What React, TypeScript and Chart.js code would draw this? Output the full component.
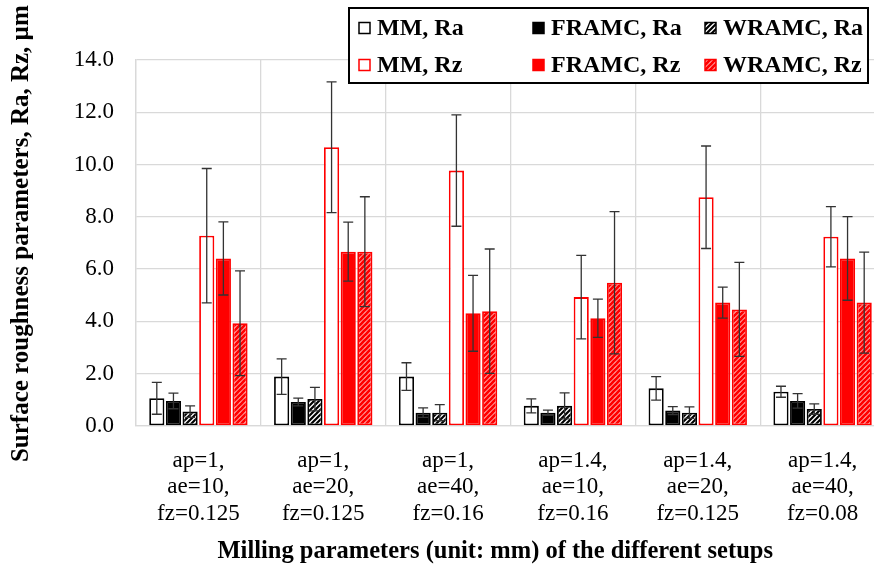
import React, { useEffect, useRef } from 'react';
import { Chart, registerables } from 'chart.js';

Chart.register(...registerables);

const FONT = "'Times New Roman', 'Liberation Serif', serif";

// Categories (milling setups), one array of lines per tick label
const categories: string[][] = [
  ['ap=1,', 'ae=10,', 'fz=0.125'],
  ['ap=1,', 'ae=20,', 'fz=0.125'],
  ['ap=1,', 'ae=40,', 'fz=0.16'],
  ['ap=1.4,', 'ae=10,', 'fz=0.16'],
  ['ap=1.4,', 'ae=20,', 'fz=0.125'],
  ['ap=1.4,', 'ae=40,', 'fz=0.08'],
];

const seriesLabels = ['MM, Ra', 'FRAMC, Ra', 'WRAMC, Ra', 'MM, Rz', 'FRAMC, Rz', 'WRAMC, Rz'];

// Mean values (µm)
const mmRa = [1.06, 1.89, 1.89, 0.77, 1.44, 1.31];
const framcRa = [0.96, 0.92, 0.51, 0.51, 0.59, 0.96];
const wramcRa = [0.55, 1.03, 0.51, 0.77, 0.51, 0.65];
const mmRz = [7.28, 10.66, 9.77, 4.93, 8.75, 7.24];
const framcRz = [6.41, 6.67, 4.31, 4.12, 4.72, 6.41];
const wramcRz = [3.93, 6.67, 4.39, 5.48, 4.46, 4.72];

// Standard deviations (error bars)
const mmRaErr = [0.61, 0.68, 0.53, 0.27, 0.45, 0.21];
const framcRaErr = [0.3, 0.15, 0.18, 0.1, 0.15, 0.28];
const wramcRaErr = [0.22, 0.45, 0.31, 0.5, 0.22, 0.2];
const mmRzErr = [2.57, 2.5, 2.13, 1.6, 1.96, 1.15];
const framcRzErr = [1.4, 1.13, 1.45, 0.73, 0.59, 1.6];
const wramcRzErr = [2.0, 2.1, 2.38, 2.72, 1.8, 1.93];

const yTickValues = [0, 2, 4, 6, 8, 10, 12, 14];

function makeHatch(fg: string, bg: string, lw: number): CanvasPattern | string {
  const c = document.createElement('canvas');
  const s = 5;
  c.width = s;
  c.height = s;
  const x = c.getContext('2d');
  if (!x) return fg;
  x.fillStyle = bg;
  x.fillRect(0, 0, s, s);
  x.strokeStyle = fg;
  x.lineWidth = lw;
  x.beginPath();
  x.moveTo(0, s);
  x.lineTo(s, 0);
  x.moveTo(-s, s);
  x.lineTo(s, -s);
  x.moveTo(0, 2 * s);
  x.lineTo(2 * s, 0);
  x.stroke();
  return x.createPattern(c, 'repeat') || fg;
}

const errorBarsPlugin = {
  id: 'errorBars',
  afterDatasetsDraw(chart: any) {
    const ctx = chart.ctx as CanvasRenderingContext2D;
    const y = chart.scales.y;
    ctx.save();
    ctx.strokeStyle = '#333333';
    ctx.lineWidth = 1.3;
    chart.data.datasets.forEach((ds: any, i: number) => {
      const meta = chart.getDatasetMeta(i);
      const errs: number[] = ds.errors || [];
      meta.data.forEach((el: any, j: number) => {
        const v = ds.data[j] as number;
        const e = errs[j];
        if (e == null) return;
        const x = el.x;
        const t = y.getPixelForValue(v + e);
        const b = y.getPixelForValue(Math.max(0, v - e));
        ctx.beginPath();
        ctx.moveTo(x, t);
        ctx.lineTo(x, b);
        ctx.moveTo(x - 5, t);
        ctx.lineTo(x + 5, t);
        ctx.moveTo(x - 5, b);
        ctx.lineTo(x + 5, b);
        ctx.stroke();
      });
    });
    ctx.restore();
  },
};

const boxLegendPlugin = {
  id: 'boxLegend',
  afterDraw(chart: any) {
    const ctx = chart.ctx as CanvasRenderingContext2D;
    const bx = 349;
    const by = 8;
    const bw = 519;
    const bh = 75;
    ctx.save();
    ctx.fillStyle = '#ffffff';
    ctx.fillRect(bx, by, bw, bh);
    ctx.strokeStyle = '#000000';
    ctx.lineWidth = 2;
    ctx.strokeRect(bx, by, bw, bh);
    const cols = [359, 533, 705];
    const rows = [28, 65];
    chart.data.datasets.forEach((ds: any, k: number) => {
      const cx = cols[k % 3];
      const cy = rows[Math.floor(k / 3)];
      ctx.fillStyle = ds.backgroundColor;
      ctx.fillRect(cx, cy - 5.5, 11, 11);
      ctx.strokeStyle = ds.borderColor;
      ctx.lineWidth = 1.5;
      ctx.strokeRect(cx, cy - 5.5, 11, 11);
      ctx.fillStyle = '#000000';
      ctx.font = `bold 24px ${FONT}`;
      ctx.textBaseline = 'middle';
      ctx.textAlign = 'left';
      ctx.fillText(ds.label, cx + 18, cy + 1);
    });
    ctx.restore();
  },
};

export default function App() {
  const ref = useRef<HTMLCanvasElement>(null);

  useEffect(() => {
    const canvas = ref.current;
    if (!canvas) return;
    const blackHatch = makeHatch('#000000', '#ffffff', 2.2);
    const redHatch = makeHatch('#ff0000', '#ffffff', 3);

    const values = [mmRa, framcRa, wramcRa, mmRz, framcRz, wramcRz];
    const errors = [mmRaErr, framcRaErr, wramcRaErr, mmRzErr, framcRzErr, wramcRzErr];
    const fills: any[] = ['#ffffff', '#000000', blackHatch, '#ffffff', '#ff0000', redHatch];
    const borders = ['#000000', '#000000', '#000000', '#ff0000', '#ff0000', '#ff0000'];

    const chart = new Chart(canvas, {
      type: 'bar',
      data: {
        labels: categories,
        datasets: values.map((v, i) => ({
          label: seriesLabels[i],
          data: v,
          errors: errors[i],
          backgroundColor: fills[i],
          borderColor: borders[i],
          borderWidth: 1.8,
          borderSkipped: false,
          categoryPercentage: 0.8,
          barPercentage: 0.91,
        })) as any,
      },
      options: {
        animation: false,
        responsive: true,
        maintainAspectRatio: false,
        layout: { padding: { top: 60, left: 0, right: 0, bottom: 0 } },
        plugins: {
          legend: { display: false },
          tooltip: { enabled: false },
        },
        scales: {
          x: {
            grid: { display: true, offset: true, color: '#d9d9d9', lineWidth: 1.3, drawTicks: false },
            border: { color: '#d9d9d9', width: 1.3 },
            ticks: {
              color: '#000000',
              font: { family: FONT, size: 23, lineHeight: 1.17 },
              padding: 21,
              maxRotation: 0,
              autoSkip: false,
            },
            title: {
              display: true,
              text: 'Milling parameters (unit: mm) of the different setups\u00a0\u00a0\u00a0\u00a0\u00a0',
              color: '#000000',
              font: { family: FONT, size: 24.5, weight: 'bold' },
              padding: { top: 0, bottom: 4 },
            },
            afterFit: (s: any) => {
              s.height = 144;
            },
          },
          y: {
            min: 0,
            max: 14,
            grid: { color: '#d9d9d9', lineWidth: 1.3, drawTicks: false },
            border: { color: '#d9d9d9', width: 1.3 },
            afterBuildTicks: (s: any) => {
              s.ticks = yTickValues.map((v) => ({ value: v }));
            },
            ticks: {
              color: '#000000',
              font: { family: FONT, size: 23 },
              padding: 22,
              callback: (v: any) => Number(v).toFixed(1),
            },
            title: {
              display: true,
              text: '\u00a0\u00a0\u00a0Surface roughness parameters, Ra, Rz, µm',
              color: '#000000',
              font: { family: FONT, size: 25, weight: 'bold' },
              padding: { top: 7, bottom: 0 },
            },
            afterFit: (s: any) => {
              s.width = 136;
            },
          },
        },
      },
      plugins: [errorBarsPlugin, boxLegendPlugin],
    });

    return () => chart.destroy();
  }, []);

  return (
    <div
      style={{
        position: 'fixed',
        left: 0,
        top: 0,
        width: 874,
        height: 570,
        overflow: 'hidden',
        background: '#ffffff',
      }}
    >
      <div style={{ position: 'relative', width: 885, height: 570 }}>
        <canvas ref={ref} />
      </div>
    </div>
  );
}
